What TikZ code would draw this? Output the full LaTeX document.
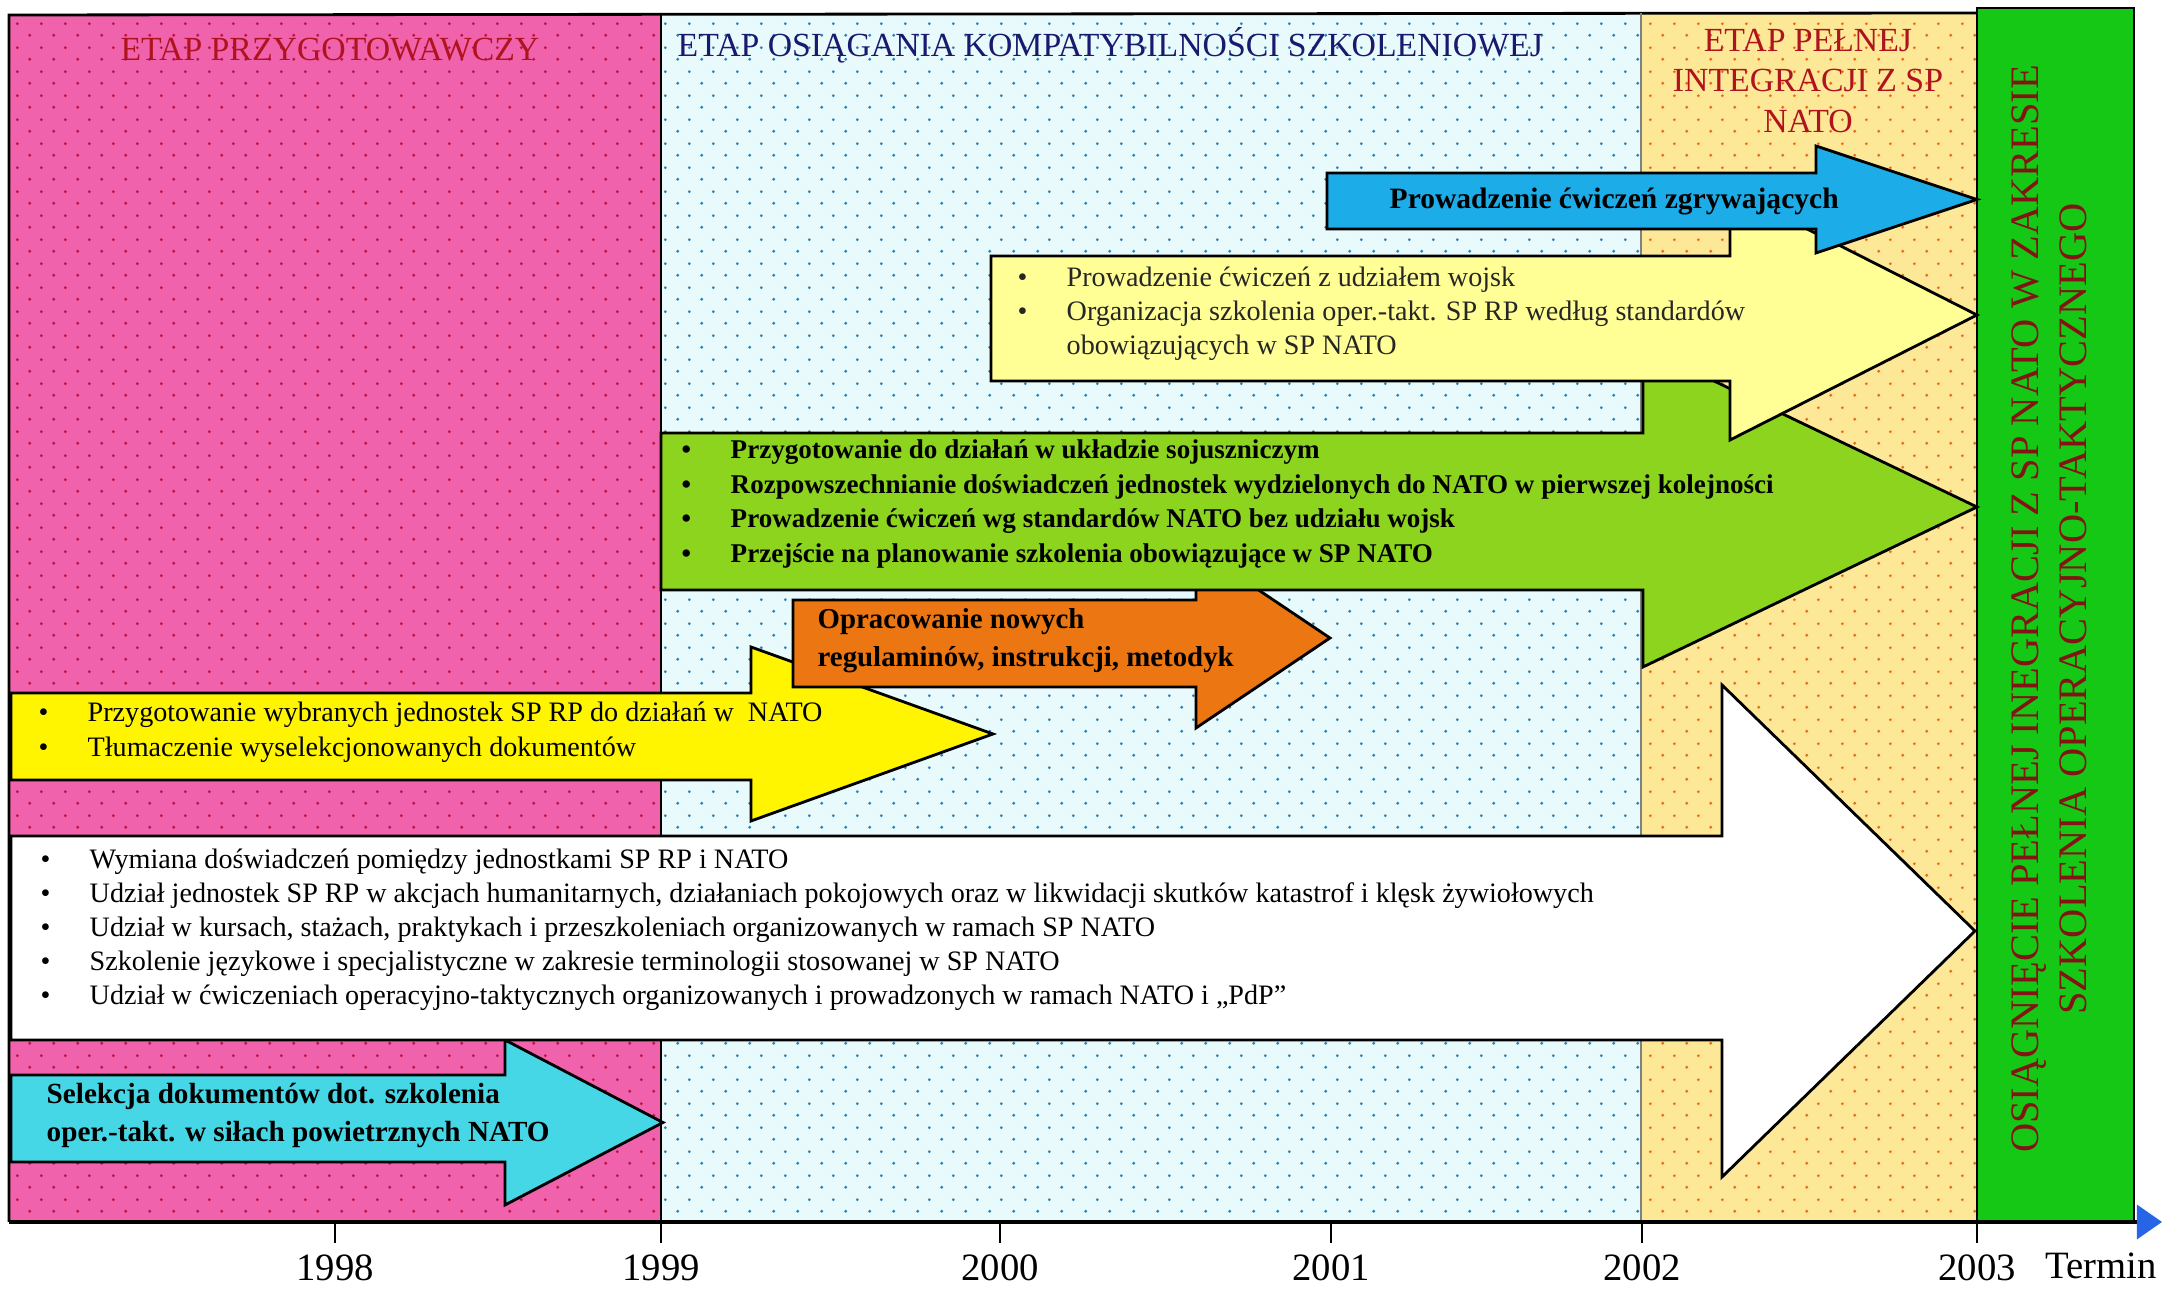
\documentclass[tikz,border=0pt]{standalone}
\usepackage{fontspec}
\setmainfont{Liberation Serif}
\usetikzlibrary{arrows.meta,patterns.meta}

\definecolor{prepink}{RGB}{240,98,172}
\definecolor{prepinkdot}{RGB}{200,15,60}
\definecolor{compblue}{RGB}{232,250,252}
\definecolor{compbluedot}{RGB}{30,140,200}
\definecolor{intyellow}{RGB}{252,232,150}
\definecolor{intyellowdot}{RGB}{225,110,30}
\definecolor{goalgreen}{RGB}{22,200,22}
\definecolor{titlered}{RGB}{175,20,30}
\definecolor{titleblue}{RGB}{25,25,110}
\definecolor{goalred}{RGB}{130,20,20}
\definecolor{exblue}{RGB}{28,172,232}
\definecolor{paleyellow}{RGB}{255,255,150}
\definecolor{limegreen}{RGB}{140,212,30}
\definecolor{docorange}{RGB}{236,118,18}
\definecolor{brightyellow}{RGB}{255,245,0}
\definecolor{selcyan}{RGB}{70,215,230}
\definecolor{axisblue}{RGB}{40,100,230}

\tikzdeclarepattern{name=stagdots, type=uncolored,
  bounding box={(0pt,0pt) and (6.83pt,6.83pt)},
  tile size={(6.83pt,6.83pt)},
  code={\fill (1.7pt,1.7pt) circle (0.45pt); \fill (5.12pt,5.12pt) circle (0.45pt);}}

\tikzset{
  stagearrow/.style={draw=black, line width=0.8pt, line join=miter},
  bodytext/.style={anchor=west, inner sep=0pt, align=left, font=\fontsize{8}{9.7}\selectfont},
  boldtext/.style={bodytext, font=\fontsize{8.2}{10.5}\selectfont\bfseries},
  stagetitle/.style={inner sep=0pt, align=center, font=\fontsize{9.6}{11}\selectfont},
  yearlabel/.style={inner sep=0pt, font=\fontsize{11}{13}\selectfont},
}

\newcommand{\bl}{\makebox[0.49cm][l]{\textbullet}}
% fill, left, body top, body bottom, head base, head top, head bottom, tip
\newcommand{\blockarrow}[8]{%
  \draw[stagearrow, fill=#1] (#2,#3) -- (#5,#3) -- (#5,#6) -- (#8,{(#6+#7)/2})
    -- (#5,#7) -- (#5,#4) -- (#2,#4) -- cycle;}

\begin{document}
\begin{tikzpicture}[x=0.01cm,y=-0.01cm]
  \useasboundingbox (0,0) rectangle (2162,1289);

  % stages
  \fill[prepink] (9,15) rectangle (661,1222);
  \fill[pattern=stagdots, pattern color=prepinkdot] (9,15) rectangle (661,1222);
  \fill[compblue] (661,15) rectangle (1641,1222);
  \fill[pattern=stagdots, pattern color=compbluedot] (661,15) rectangle (1641,1222);
  \fill[intyellow] (1641,13) rectangle (1977,1222);
  \fill[pattern=stagdots, pattern color=intyellowdot] (1641,13) rectangle (1977,1222);
  \draw[line width=0.8pt] (9,1222) -- (9,15) -- (1977,13);
  \draw[line width=0.8pt] (661,15) -- (661,1222);
  \draw[gray, line width=0.3pt] (1641,13) -- (1641,1222);
  \draw[line width=0.8pt, fill=goalgreen] (1977,8) rectangle (2134,1222);

  \node[stagetitle, text=titlered] (prep) at (330,50) {ETAP PRZYGOTOWAWCZY};
  \node[stagetitle, text=titleblue, anchor=west] (comp) at (677,45) {ETAP OSIĄGANIA KOMPATYBILNOŚCI SZKOLENIOWEJ};
  \node[stagetitle, text=titlered] (integ) at (1808,81) {ETAP PEŁNEJ\\[0.5pt]INTEGRACJI Z SP\\[0.5pt]NATO};

  % arrows, back to front
  \blockarrow{selcyan}{11}{1075}{1162}{505}{1040}{1205}{663}
  \node[boldtext, font=\fontsize{8.3}{10.8}\selectfont\bfseries] (selekcja) at (46,1116)
    {Selekcja dokumentów dot. szkolenia\\oper.-takt. w siłach powietrznych NATO};

  \blockarrow{white}{11}{836}{1040}{1722}{685}{1177}{1975}
  \node[bodytext] (wymiana) at (40,930)
    {\bl Wymiana doświadczeń pomiędzy jednostkami SP RP i NATO\\
     \bl Udział jednostek SP RP w akcjach humanitarnych, działaniach pokojowych oraz w likwidacji skutków katastrof i klęsk żywiołowych\\
     \bl Udział w kursach, stażach, praktykach i przeszkoleniach organizowanych w ramach SP NATO\\
     \bl Szkolenie językowe i specjalistyczne w zakresie terminologii stosowanej w SP NATO\\
     \bl Udział w ćwiczeniach operacyjno-taktycznych organizowanych i prowadzonych w ramach NATO i „PdP”};

  \blockarrow{brightyellow}{11}{693}{780}{751}{647}{821}{993}
  \node[bodytext, font=\fontsize{8}{10}\selectfont] (tlumacz) at (38,732)
    {\bl Przygotowanie wybranych jednostek SP RP do działań w~ NATO\\
     \bl Tłumaczenie wyselekcjonowanych dokumentów};

  \blockarrow{docorange}{793}{600}{687}{1196}{548}{728}{1330}
  \node[boldtext, font=\fontsize{8.2}{10.8}\selectfont\bfseries] (regul) at (817,641)
    {Opracowanie nowych\\regulaminów, instrukcji, metodyk};

  \blockarrow{limegreen}{661}{433}{590}{1643}{347}{667}{1977}
  \node[boldtext, font=\fontsize{7.7}{9.9}\selectfont\bfseries] (sojusz) at (681,504)
    {\bl Przygotowanie do działań w układzie sojuszniczym\\
     \bl Rozpowszechnianie doświadczeń jednostek wydzielonych do NATO w pierwszej kolejności\\
     \bl Prowadzenie ćwiczeń wg standardów NATO bez udziału wojsk\\
     \bl Przejście na planowanie szkolenia obowiązujące w SP NATO};

  \blockarrow{paleyellow}{991}{256}{381}{1730}{190}{440}{1977}
  \node[bodytext, text=black!85] (wojsk) at (1017,314)
    {\bl Prowadzenie ćwiczeń z udziałem wojsk\\
     \bl Organizacja szkolenia oper.-takt. SP RP według standardów\\
     \hspace*{0.49cm}obowiązujących w SP NATO};

  \blockarrow{exblue}{1327}{173}{229}{1816}{146}{253}{1977}
  \node[boldtext, font=\fontsize{8.4}{10}\selectfont\bfseries] (zgryw) at (1389,202)
    {Prowadzenie ćwiczeń zgrywających};

  % goal
  \node[rotate=90, inner sep=0pt, align=center, text=goalred,
        font=\fontsize{11.5}{13.6}\selectfont] (goal) at (2049,609)
    {OSIĄGNIĘCIE PEŁNEJ INEGRACJI Z SP NATO W ZAKRESIE\\SZKOLENIA OPERACYJNO-TAKTYCZNEGO};

  % time axis
  \draw[line width=0.9pt, -{Triangle[length=0.25cm,width=0.34cm,color=axisblue]}] (9,1222) -- (2162,1222);
  \foreach \yr/\xx in {1998/335,1999/661,2000/1000,2001/1331,2002/1642,2003/1977} {
    \draw[line width=0.5pt] (\xx,1222) -- (\xx,1243);
    \node[yearlabel] (y\yr) at (\xx,1268) {\yr};
  }
  \node[yearlabel, anchor=west] (termin) at (2045,1266) {Termin};
\end{tikzpicture}
\end{document}
